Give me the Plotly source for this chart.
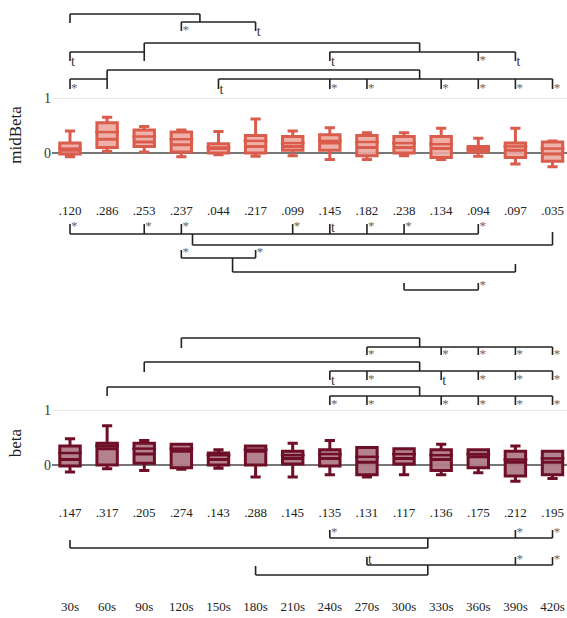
import plotly.graph_objects as go

# ---------------- data ----------------
labels = ["30s", "60s", "90s", "120s", "150s", "180s", "210s",
          "240s", "270s", "300s", "330s", "360s", "390s", "420s"]
idx = list(range(len(labels)))

# midBeta box stats
mb_low = [-0.07, 0.03, 0.02, -0.07, -0.03, -0.06, -0.05, -0.12, -0.12, -0.05, -0.12, -0.06, -0.20, -0.25]
mb_q1 = [-0.02, 0.10, 0.12, 0.02, 0.00, 0.00, 0.05, 0.05, -0.05, 0.00, -0.08, 0.02, -0.08, -0.15]
mb_med = [0.05, 0.25, 0.20, 0.15, 0.08, 0.12, 0.12, 0.18, 0.10, 0.10, 0.08, 0.05, 0.05, -0.02]
mb_mean = [0.08, 0.38, 0.30, 0.25, 0.10, 0.22, 0.18, 0.22, 0.20, 0.18, 0.16, 0.08, 0.12, 0.08]
mb_q3 = [0.18, 0.55, 0.42, 0.38, 0.17, 0.32, 0.30, 0.33, 0.32, 0.30, 0.30, 0.12, 0.18, 0.20]
mb_high = [0.40, 0.65, 0.48, 0.42, 0.39, 0.62, 0.40, 0.46, 0.37, 0.37, 0.45, 0.27, 0.45, 0.22]
mb_vals = [".120", ".286", ".253", ".237", ".044", ".217", ".099",
           ".145", ".182", ".238", ".134", ".094", ".097", ".035"]

# beta box stats
b_low = [-0.13, -0.07, -0.10, -0.08, -0.06, -0.22, -0.22, -0.18, -0.22, -0.18, -0.18, -0.14, -0.30, -0.25]
b_q1 = [-0.02, 0.00, 0.03, -0.05, 0.00, 0.00, 0.02, -0.02, -0.18, 0.02, -0.10, -0.05, -0.20, -0.18]
b_med = [0.10, 0.30, 0.20, 0.25, 0.10, 0.25, 0.12, 0.12, 0.05, 0.12, 0.10, 0.15, 0.05, 0.05]
b_mean = [0.22, 0.35, 0.30, 0.30, 0.18, 0.28, 0.18, 0.20, 0.15, 0.20, 0.18, 0.20, 0.10, 0.12]
b_q3 = [0.35, 0.40, 0.40, 0.38, 0.22, 0.35, 0.25, 0.28, 0.32, 0.30, 0.28, 0.28, 0.25, 0.25]
b_high = [0.48, 0.72, 0.45, 0.38, 0.28, 0.35, 0.40, 0.45, 0.32, 0.30, 0.38, 0.28, 0.35, 0.25]
b_vals = [".147", ".317", ".205", ".274", ".143", ".288", ".145",
          ".135", ".131", ".117", ".136", ".175", ".212", ".195"]

# significance brackets: horizontal bars (x0, x1, y), vertical legs (x, y0, y1),
# labels (x, y, text); y in page pixels of the annotation layer
bars = [
    (0, 3.5, 14), (3, 5, 22),
    (2, 9.42, 43), (0, 2, 52), (7, 12, 52),
    (1, 9.42, 70), (0, 1, 79), (4, 13, 79),
    (0, 11, 234), (3.3, 13, 245), (3, 5, 258), (4.38, 12, 272), (9, 11, 290),
    (3, 9.42, 338), (8, 13, 347),
    (2, 9.42, 362), (7, 13, 371),
    (1, 9.42, 387), (7, 13, 396),
    (7, 13, 538), (0, 9.64, 548), (8, 13, 565), (5, 9.64, 575),
]
legs = [
    (0, 14, 23), (3.5, 14, 22), (3, 22, 31), (5, 22, 31),
    (2, 43, 61), (9.42, 43, 52), (0, 52, 61), (7, 52, 61), (11, 52, 61), (12, 52, 61),
    (1, 70, 89), (9.42, 70, 79), (0, 79, 89),
    (4, 79, 89), (7, 79, 89), (8, 79, 89), (10, 79, 89), (11, 79, 89), (12, 79, 89), (13, 79, 89),
    (0, 224, 234), (2, 224, 234), (3, 224, 234), (6, 224, 234), (7, 224, 234),
    (8, 224, 234), (9, 224, 234), (11, 224, 234),
    (3.3, 234, 245), (13, 232, 245), (3, 250, 258), (5, 250, 258),
    (4.38, 258, 272), (12, 264, 272), (9, 283, 290), (11, 283, 290),
    (3, 338, 348), (9.42, 338, 347),
    (8, 347, 355), (10, 347, 355), (11, 347, 355), (12, 347, 355), (13, 347, 355),
    (2, 362, 372), (9.42, 362, 371),
    (7, 371, 380), (8, 371, 380), (10, 371, 380), (11, 371, 380), (12, 371, 380), (13, 371, 380),
    (1, 387, 396), (9.42, 387, 396),
    (7, 396, 405), (8, 396, 405), (10, 396, 405), (11, 396, 405), (12, 396, 405), (13, 396, 405),
    (7, 530, 538), (12, 530, 538), (13, 530, 538),
    (9.64, 538, 548), (0, 540, 548),
    (8, 557, 565), (12, 557, 565), (13, 557, 565),
    (9.64, 565, 575), (5, 566, 575),
]
marks = [
    (3, 31, "*"), (5, 32, "t"),
    (0, 62, "t"), (7, 62, "t"), (11, 61, "*"), (12, 62, "t"),
    (0, 89, "*"), (4, 90, "t"), (7, 89, "*"), (8, 89, "*"), (10, 89, "*"),
    (11, 89, "*"), (12, 89, "*"), (13, 89, "*"),
    (0, 227, "*"), (2, 227, "*"), (3, 227, "*"), (6, 227, "*"), (7, 228, "t"),
    (8, 227, "*"), (9, 227, "*"), (11, 227, "*"),
    (3, 253, "*"), (5, 253, "*"), (11, 286, "*"),
    (8, 355, "*"), (10, 355, "*"), (11, 355, "*"), (12, 355, "*"), (13, 355, "*"),
    (7, 381, "t"), (8, 380, "*"), (10, 381, "t"), (11, 380, "*"), (12, 380, "*"), (13, 380, "*"),
    (7, 405, "*"), (8, 405, "*"), (10, 405, "*"), (11, 405, "*"), (12, 405, "*"), (13, 405, "*"),
    (7, 533, "*"), (12, 533, "*"), (13, 533, "*"),
    (8, 560, "t"), (12, 560, "*"), (13, 560, "*"),
]
val_row_y = [212, 514]

# ---------------- layout helpers ----------------
W, HH = 567, 618
B = 21
H = HH - B


def pf(p):
    return 1 - p / H


FONT = "Liberation Serif"
fig = go.Figure()

panels = [
    ("y", mb_low, mb_q1, mb_med, mb_mean, mb_q3, mb_high, "#d95c4c", "rgba(236,168,160,0.9)"),
    ("y2", b_low, b_q1, b_med, b_mean, b_q3, b_high, "#6e0f27", "rgba(176,122,137,0.95)"),
]
for ya, lo, q1, med, mean, q3, hi, lc, fc in panels:
    fig.add_trace(go.Box(
        x=idx, q1=q1, median=med, q3=q3, lowerfence=lo, upperfence=hi,
        width=0.55, whiskerwidth=0.5,
        line=dict(color=lc, width=3), fillcolor=fc,
        xaxis="x", yaxis=ya, showlegend=False, hoverinfo="skip"))
    # mean line drawn solid inside each box
    fig.add_trace(go.Scatter(
        x=idx, y=mean, mode="markers",
        marker=dict(symbol="line-ew", size=17, line=dict(color=lc, width=2.5)),
        xaxis="x", yaxis=ya, showlegend=False, hoverinfo="skip"))

# brackets
bx, by = [], []
for x0, x1, y in bars:
    bx += [x0, x1, None]
    by += [y, y, None]
for x, y0, y1 in legs:
    bx += [x, x, None]
    by += [y0, y1, None]
fig.add_trace(go.Scatter(x=bx, y=by, mode="lines", line=dict(color="#222", width=1.6),
                         xaxis="x", yaxis="y3", showlegend=False, hoverinfo="skip",
                         cliponaxis=False))

for sym, col, sz in (("*", "#666", 13), ("t", "#333", 14)):
    pts = [m for m in marks if m[2] == sym]
    fig.add_trace(go.Scatter(
        x=[p[0] + 0.03 for p in pts], y=[p[1] for p in pts], text=[p[2] for p in pts],
        mode="text", textposition="middle right", cliponaxis=False,
        textfont=dict(family=FONT, size=sz, color=col),
        xaxis="x", yaxis="y3", showlegend=False, hoverinfo="skip"))

for vals, yy in zip((mb_vals, b_vals), val_row_y):
    fig.add_trace(go.Scatter(
        x=idx, y=[yy] * len(idx), text=vals, mode="text", textposition="middle center",
        textfont=dict(family=FONT, size=13, color="#222"), cliponaxis=False,
        xaxis="x", yaxis="y3", showlegend=False, hoverinfo="skip"))

yax_common = dict(tickvals=[0, 1], ticktext=["0", "1"], showgrid=True, gridcolor="#e8e8e8",
                  gridwidth=1, zeroline=True, zerolinecolor="#777", zerolinewidth=1.5,
                  showline=False, ticks="", automargin=False,
                  tickfont=dict(family=FONT, size=14, color="#333"),
                  title_font=dict(family=FONT, size=17, color="#222"), title_standoff=18)

fig.update_layout(
    width=W, height=HH,
    margin=dict(l=52, r=0, t=0, b=B, autoexpand=False),
    paper_bgcolor="white", plot_bgcolor="rgba(0,0,0,0)",
    font=dict(family=FONT),
    xaxis=dict(range=[-0.485, 13.39], tickvals=idx, ticktext=labels, anchor="free", position=0,
               showgrid=False, zeroline=False, showline=False, ticks="", automargin=False,
               tickfont=dict(family=FONT, size=13, color="#222")),
    yaxis=dict(domain=[pf(180), pf(90)], range=[(153 - 180) / 55, (153 - 90) / 55],
               anchor="x", title_text="midBeta", **yax_common),
    yaxis2=dict(domain=[pf(486), pf(400)], range=[(465 - 486) / 54.5, (465 - 400) / 54.5],
                anchor="x", title_text="beta", **yax_common),
    yaxis3=dict(domain=[0, 1], range=[H, 0], anchor="x", visible=False),
)

fig.write_html(
    "out.html",
    config={"displayModeBar": False},
    post_script="document.body.style.margin='0';document.body.style.overflow='hidden';",
)
